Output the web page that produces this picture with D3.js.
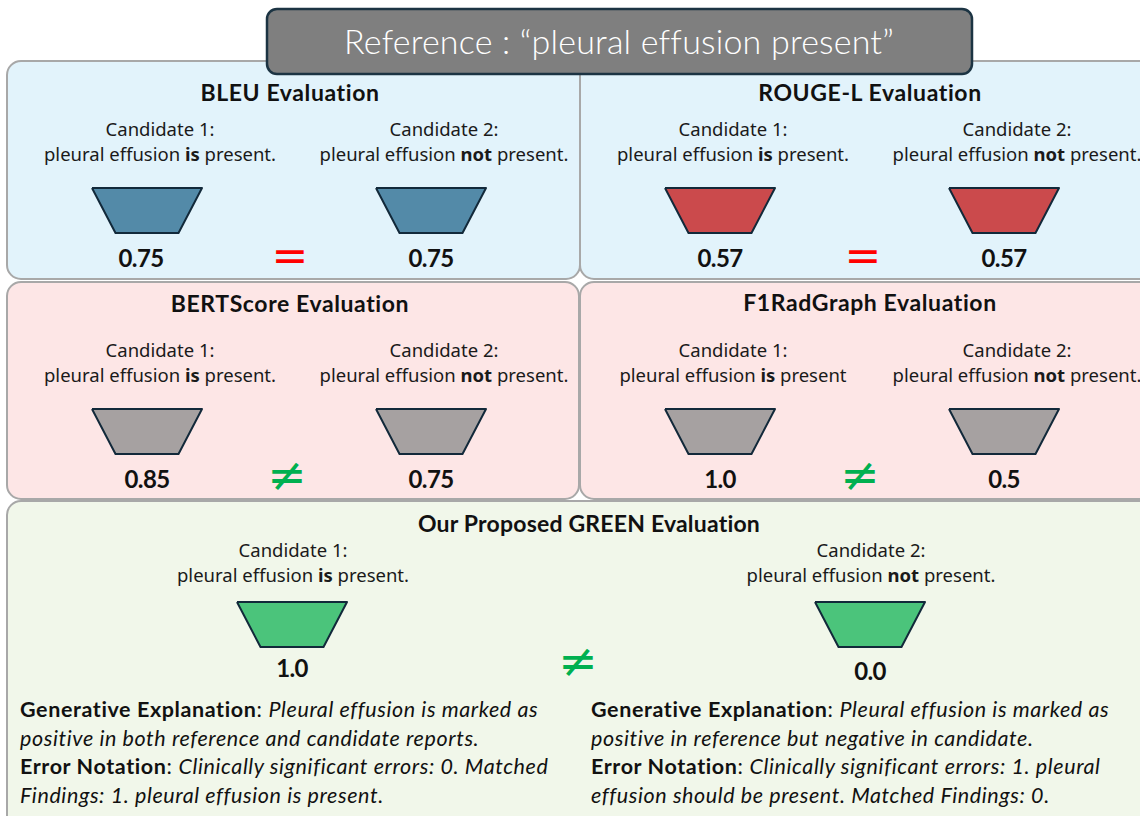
<!DOCTYPE html>
<html>
<head>
<meta charset="utf-8">
<script src="https://cdn.jsdelivr.net/npm/d3@7"></script>
<style>
  body { margin: 0; background: #fff; }
  svg { display: block; }
</style>
</head>
<body>
<div id="chart"></div>
<script>
// metric panels, row by row
var metrics = ["BLEU Evaluation", "ROUGE-L Evaluation", "BERTScore Evaluation", "F1RadGraph Evaluation"];
var cand1Scores = [0.75, 0.57, 0.85, 1.0];
var cand2Scores = [0.75, 0.57, 0.75, 0.5];
var verdicts = ["=", "=", "\u2260", "\u2260"];
var cand1Tails = ["present.", "present.", "present.", "present"];

// proposed metric
var greenTitle = "Our Proposed GREEN Evaluation";
var greenScores = [1.0, 0.0];
var greenVerdict = "\u2260";
var referenceText = "Reference : \u201cpleural effusion present\u201d";

var explanations = [
  [[["Generative Explanation", "b"], [": ", ""], ["Pleural effusion is marked as", "i"]],
   [["positive in both reference and candidate reports.", "i"]],
   [["Error Notation", "b"], [": ", ""], ["Clinically significant errors: 0. Matched", "i"]],
   [["Findings: 1. pleural effusion is present.", "i"]]],
  [[["Generative Explanation", "b"], [": ", ""], ["Pleural effusion is marked as", "i"]],
   [["positive in reference but negative in candidate.", "i"]],
   [["Error Notation", "b"], [": ", ""], ["Clinically significant errors: 1. pleural", "i"]],
   [["effusion should be present. Matched Findings: 0.", "i"]]]
];

var W = 1140, H = 816;
var svg = d3.select("#chart").append("svg").attr("width", W).attr("height", H);

var fillFor = ["#e2f3fb", "#e2f3fb", "#fde6e6", "#fde6e6"];
var funnelFill = ["#538aa8", "#cb4a4c", "#a6a1a1", "#a6a1a1"];
var panelBox = [
  {x: 7, y: 61, w: 573, h: 218, ty: 32, sx: -6},
  {x: 580, y: 61, w: 580, h: 218, ty: 32, sx: 0},
  {x: 7, y: 282, w: 572, h: 217, ty: 22, sx: 0},
  {x: 580, y: 282, w: 580, h: 217, ty: 21, sx: 0}
];

function fmt(v) {
  return +v.toFixed(1) === v ? v.toFixed(1) : v.toFixed(2);
}

// trapezoid (funnel) shape, centred on 0
var funnel = d3.line();
function funnelPts(topW, botW, h) {
  return [[-topW / 2, 0], [topW / 2, 0], [botW / 2, h], [-botW / 2, h], [-topW / 2, 0]];
}

function candText(g, x, y, num, word, tail) {
  g.append("text").attr("x", x).attr("y", y).attr("text-anchor", "middle")
    .attr("class", "cand").text("Candidate " + num + ":");
  var t = g.append("text").attr("x", x).attr("y", y + 25).attr("text-anchor", "middle").attr("class", "cand");
  t.append("tspan").text("pleural effusion ");
  t.append("tspan").attr("font-weight", "bold").text(word);
  t.append("tspan").text(" " + tail);
}

var candPos = d3.scalePoint().domain([1, 2]).range([0, 284]);

// back panels
metrics.forEach(function(m, i) {
  var b = panelBox[i];
  var g = svg.append("g").attr("transform", "translate(" + b.x + "," + b.y + ")");
  g.append("rect").attr("width", b.w).attr("height", b.h).attr("rx", 14)
    .attr("fill", fillFor[i]).attr("stroke", "#a8a8a8").attr("stroke-width", 2);
  b.g = g;
});

var gb = svg.append("g").attr("transform", "translate(7,501)");
gb.append("rect").attr("width", 1160).attr("height", 340).attr("rx", 14)
  .attr("fill", "#f1f7ea").attr("stroke", "#a8a8a8").attr("stroke-width", 2);

// reference banner
svg.append("rect").attr("x", 267).attr("y", 9).attr("width", 705).attr("height", 65).attr("rx", 10)
  .attr("fill", "#7f7f7f").attr("stroke", "#1c3443").attr("stroke-width", 2.5);
svg.append("text").attr("x", 619).attr("y", 54).attr("text-anchor", "middle")
  .attr("fill", "#fff").style("font", "300 34px Lato, 'Open Sans', sans-serif")
  .style("letter-spacing", "0.2px").text(referenceText);

// metric contents
metrics.forEach(function(m, i) {
  var b = panelBox[i], g = b.g;
  var scores = [cand1Scores[i], cand2Scores[i]];
  g.append("text").attr("x", i % 2 ? 290 : 283).attr("y", b.ty + 8).attr("text-anchor", "middle")
    .attr("class", "title").text(m);
  [1, 2].forEach(function(c, k) {
    var cx = 146 + candPos(c);
    candText(g, cx + 7, 75, c, c === 1 ? "is" : "not", c === 1 ? cand1Tails[i] : "present.");
    g.append("path").attr("transform", "translate(" + (cx - 6) + "," + 127 + ")")
      .attr("d", funnel(funnelPts(110, 63, 45)))
      .attr("fill", funnelFill[i]).attr("stroke", "#12293a").attr("stroke-width", 2).attr("stroke-linejoin", "round");
    g.append("text").attr("x", cx - 6 + (k === 0 ? b.sx : 0)).attr("y", 206).attr("text-anchor", "middle")
      .attr("class", "score").text(fmt(scores[k]));
  });
  var eq = verdicts[i] === "=";
  g.append("text").attr("x", eq ? 283 : 280).attr("y", eq ? 210 : 209).attr("text-anchor", "middle")
    .attr("class", eq ? "eq" : "neq").text(verdicts[i]);
});

// GREEN panel
gb.append("text").attr("x", 582).attr("y", 31).attr("text-anchor", "middle").attr("class", "title")
  .style("letter-spacing", "0.2px").text(greenTitle);
var greenPos = d3.scalePoint().domain([1, 2]).range([286, 864]);
[1, 2].forEach(function(c, k) {
  var cx = greenPos(c);
  candText(gb, cx, 56, c, c === 1 ? "is" : "not", "present.");
  gb.append("path").attr("transform", "translate(" + (cx - 1) + "," + 101 + ")")
    .attr("d", funnel(funnelPts(110, 63, 45)))
    .attr("fill", "#4bc47b").attr("stroke", "#12293a").attr("stroke-width", 2).attr("stroke-linejoin", "round");
  gb.append("text").attr("x", cx - 1).attr("y", 176 + k * 3).attr("text-anchor", "middle")
    .attr("class", "score").text(fmt(greenScores[k]));
});
gb.append("text").attr("x", 571).attr("y", 176).attr("text-anchor", "middle").attr("class", "neq").text(greenVerdict);

var lineY = d3.scalePoint().domain([0, 1, 2, 3]).range([216, 302]);
explanations.forEach(function(block, k) {
  var x0 = k === 0 ? 13 : 584;
  block.forEach(function(line, j) {
    var t = gb.append("text").attr("x", x0).attr("y", lineY(j)).attr("class", "expl");
    line.forEach(function(seg) {
      var s = t.append("tspan").text(seg[0]);
      if (seg[1] === "b") s.attr("font-weight", "bold");
      if (seg[1] === "i") s.attr("font-style", "italic");
    });
  });
});

svg.selectAll(".title").style("font", "bold 23px Lato, sans-serif").attr("fill", "#111");
svg.selectAll(".title").filter(function() { return !this.style.letterSpacing; }).style("letter-spacing", "0.6px");
svg.selectAll(".cand").style("font-family", "'Noto Sans', sans-serif").style("font-size", "18.5px").attr("fill", "#1a1a1a");
svg.selectAll(".score").style("font", "bold 24px Lato, sans-serif").style("letter-spacing", "-0.6px").attr("fill", "#111");
svg.selectAll(".expl").style("font-family", "Lato, sans-serif").style("font-size", "21.5px")
  .style("letter-spacing", "0.6px").attr("fill", "#111");
svg.selectAll(".eq").style("font", "44px 'DejaVu Sans', sans-serif").attr("fill", "#ff0000");
svg.selectAll(".neq").style("font", "47px 'DejaVu Sans', sans-serif").attr("fill", "#00b050");
</script>
</body>
</html>
